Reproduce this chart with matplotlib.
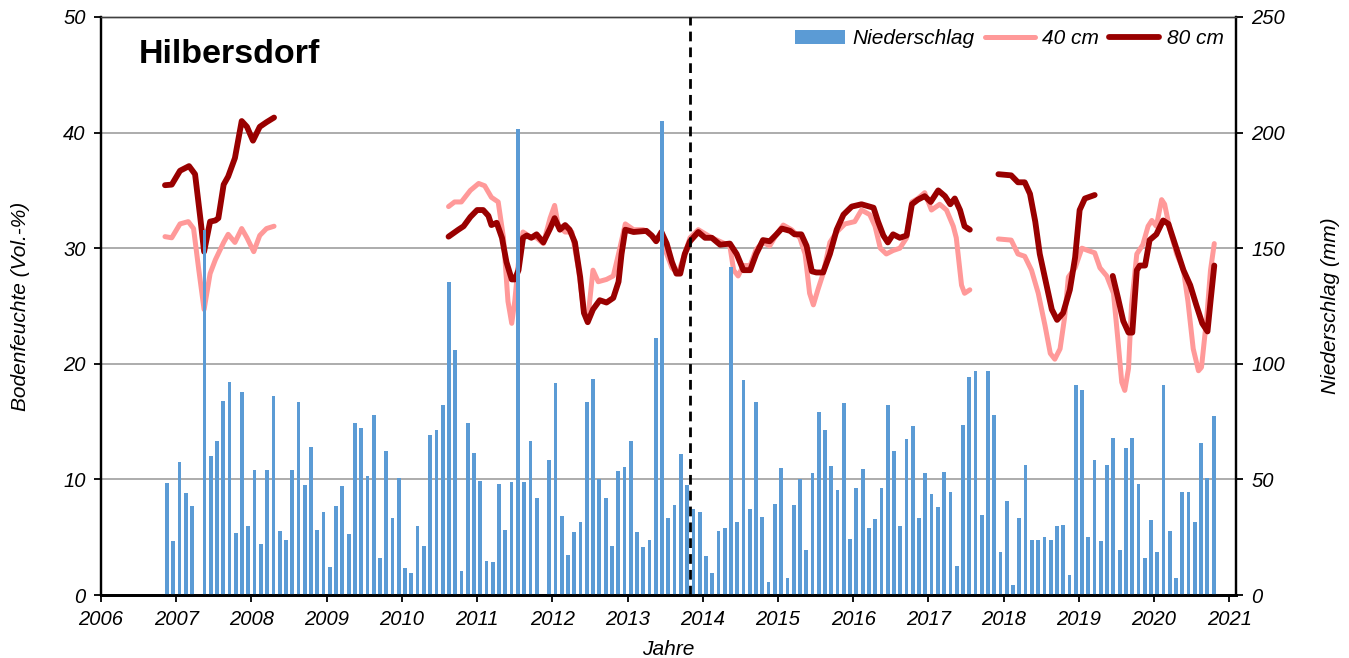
import matplotlib
matplotlib.use("Agg")
import matplotlib.pyplot as plt
import numpy as np
from matplotlib.patches import Patch
from matplotlib.lines import Line2D

plt.rcParams['font.family'] = ['Liberation Sans', 'DejaVu Sans']

# Monthly precipitation (mm), Nov 2006 .. Oct 2020
precip = [
    48.5, 23.5,
    57.5, 44.0, 38.3, 0.0, 158.0, 60.0, 66.5, 84.0, 92.0, 26.7, 88.0, 30.0,
    54.0, 22.0, 54.0, 86.0, 27.5, 24.0, 54.2, 83.4, 47.8, 64.0, 28.3, 35.8,
    12.2, 38.7, 47.2, 26.6, 74.2, 72.2, 51.3, 78.0, 15.8, 62.1, 33.2, 50.8,
    11.7, 9.7, 30.0, 21.1, 69.2, 71.4, 82.3, 135.5, 106.0, 10.4, 74.6, 61.4,
    49.2, 14.6, 14.2, 48.2, 28.1, 48.9, 201.5, 48.7, 66.8, 41.9, 0.0, 58.2,
    91.7, 34.1, 17.1, 27.2, 31.8, 83.4, 93.6, 50.0, 41.9, 21.1, 53.7, 55.4,
    66.4, 27.2, 20.9, 24.0, 111.0, 205.0, 33.4, 38.8, 61.2, 47.4, 37.2, 35.9,
    16.7, 9.7, 27.6, 28.8, 141.8, 31.8, 92.8, 37.0, 83.4, 33.7, 5.8, 39.5,
    55.1, 7.5, 39.1, 50.2, 19.6, 52.8, 79.0, 71.5, 55.6, 45.5, 83.1, 24.3,
    46.3, 54.6, 29.2, 32.8, 46.3, 82.2, 62.2, 29.7, 67.3, 73.2, 33.4, 52.8,
    43.8, 38.0, 53.3, 44.7, 12.7, 73.6, 94.2, 97.1, 34.4, 96.8, 78.0, 18.8,
    40.5, 4.2, 33.3, 56.4, 23.9, 23.9, 25.3, 24.0, 29.7, 30.2, 8.7, 90.7,
    88.5, 25.3, 58.3, 23.2, 56.3, 68.0, 19.6, 63.4, 67.7, 48.0, 15.8, 32.3,
    18.7, 90.7, 27.5, 7.2, 44.7, 44.4, 31.4, 65.8, 50.5, 77.5,
]
first_year, first_month = 2006, 11

# Soil moisture 40 cm (Vol.-%), decimal year ; NaN = gap
t40 = [2006.85, 2006.94, 2007.05, 2007.16, 2007.23, 2007.30, 2007.37, 2007.45, 2007.52, 2007.63,
       2007.69, 2007.78, 2007.87, 2007.94, 2008.03, 2008.11, 2008.20, 2008.30, np.nan,
       2010.62, 2010.70, 2010.79, 2010.91, 2011.02, 2011.10, 2011.19, 2011.28, 2011.35, 2011.41,
       2011.46, 2011.50, 2011.55, 2011.61, 2011.70, 2011.79, 2011.88, 2011.97, 2012.03, 2012.08,
       2012.17, 2012.26, 2012.35, 2012.42, 2012.48, 2012.54, 2012.61, 2012.72, 2012.81, 2012.88,
       2012.97, 2013.08, 2013.21, 2013.32, 2013.39, 2013.45, 2013.52, 2013.59, 2013.67, 2013.76,
       2013.83, 2013.94, 2014.12, 2014.36, 2014.41, 2014.47, 2014.54, 2014.63, 2014.71, 2014.80,
       2014.89, 2014.98, 2015.07, 2015.18, 2015.29, 2015.36, 2015.42, 2015.47, 2015.53, 2015.60,
       2015.69, 2015.78, 2015.89, 2016.02, 2016.11, 2016.22, 2016.29, 2016.36, 2016.44, 2016.53,
       2016.62, 2016.71, 2016.78, 2016.86, 2016.95, 2017.04, 2017.15, 2017.24, 2017.33, 2017.37,
       2017.44, 2017.48, 2017.55, np.nan,
       2017.93, 2018.10, 2018.19, 2018.28, 2018.37, 2018.46, 2018.55, 2018.62, 2018.68, 2018.75,
       2018.81, 2018.86, 2018.95, 2019.04, 2019.12, 2019.21, 2019.28, 2019.37, 2019.46, 2019.52,
       2019.57, 2019.61, 2019.66, 2019.70, 2019.77, 2019.85, 2019.92, 2019.97, 2020.03, 2020.10,
       2020.14, 2020.21, 2020.30, 2020.39, 2020.45, 2020.52, 2020.59, 2020.63, 2020.70, 2020.75,
       2020.80]
v40 = [31.0, 30.9, 32.1, 32.3, 31.7, 28.1, 24.7, 27.8, 29.0, 30.5,
       31.2, 30.5, 31.7, 30.9, 29.7, 31.1, 31.7, 31.9, np.nan,
       33.6, 34.0, 34.0, 35.0, 35.6, 35.4, 34.4, 34.0, 30.9, 25.4,
       23.5, 25.4, 28.8, 31.4, 31.0, 30.9, 30.4, 32.6, 33.7, 31.9,
       31.4, 31.4, 28.1, 24.4, 24.4, 28.1, 27.1, 27.3, 27.6, 29.5,
       32.1, 31.6, 31.6, 31.1, 30.7, 30.9, 29.5, 28.3, 27.8, 29.5,
       30.9, 31.6, 30.9, 30.2, 28.1, 27.6, 28.5, 28.5, 29.9, 30.5,
       30.2, 31.2, 32.0, 31.6, 30.9, 29.5, 26.1, 25.1, 26.4, 27.8,
       30.5, 31.4, 32.1, 32.3, 33.3, 32.9, 31.9, 30.0, 29.5, 29.8,
       30.0, 30.9, 34.0, 34.3, 34.8, 33.3, 33.8, 33.3, 31.9, 30.9,
       26.8, 26.1, 26.4, np.nan,
       30.8, 30.7, 29.5, 29.3, 28.1, 26.1, 23.3, 20.9, 20.4, 21.3,
       24.0, 27.5, 28.3, 30.0, 29.8, 29.6, 28.3, 27.6, 26.1, 22.0,
       18.4, 17.7, 19.6, 25.1, 29.5, 30.3, 31.9, 32.4, 31.9, 34.2,
       33.8, 31.6, 29.5, 28.1, 25.4, 21.3, 19.4, 19.7, 24.0, 28.1,
       30.4]

# Soil moisture 80 cm (Vol.-%)
t80 = [2006.85, 2006.94, 2007.05, 2007.17, 2007.25, 2007.32, 2007.37, 2007.45, 2007.52, 2007.56,
       2007.63, 2007.69, 2007.78, 2007.87, 2007.94, 2008.02, 2008.11, 2008.20, 2008.30, np.nan,
       2010.62, 2010.75, 2010.82, 2010.91, 2011.00, 2011.08, 2011.15, 2011.19, 2011.26, 2011.33,
       2011.39, 2011.46, 2011.50, 2011.55, 2011.61, 2011.66, 2011.72, 2011.79, 2011.88, 2011.97,
       2012.03, 2012.10, 2012.17, 2012.23, 2012.30, 2012.37, 2012.42, 2012.47, 2012.54, 2012.63,
       2012.72, 2012.81, 2012.88, 2012.92, 2012.97, 2013.08, 2013.25, 2013.32, 2013.38, 2013.45,
       2013.52, 2013.59, 2013.65, 2013.70, 2013.76, 2013.83, 2013.94, 2014.03, 2014.12, 2014.23,
       2014.36, 2014.45, 2014.54, 2014.63, 2014.71, 2014.80, 2014.89, 2014.98, 2015.05, 2015.16,
       2015.22, 2015.31, 2015.38, 2015.45, 2015.51, 2015.60, 2015.69, 2015.78, 2015.87, 2015.98,
       2016.11, 2016.27, 2016.33, 2016.40, 2016.46, 2016.53, 2016.62, 2016.71, 2016.78, 2016.86,
       2016.95, 2017.03, 2017.13, 2017.22, 2017.29, 2017.35, 2017.42, 2017.48, 2017.55, np.nan,
       2017.93, 2018.10, 2018.19, 2018.28, 2018.35, 2018.42, 2018.48, 2018.57, 2018.64, 2018.71,
       2018.79, 2018.88, 2018.95, 2019.01, 2019.08, 2019.21, np.nan,
       2019.45, 2019.52, 2019.59, 2019.66, 2019.71, 2019.77, 2019.81, 2019.88, 2019.94, 2020.03,
       2020.12, 2020.19, 2020.30, 2020.39, 2020.48, 2020.56, 2020.64, 2020.71, 2020.75, 2020.80]
v80 = [35.45, 35.5, 36.7, 37.1, 36.4, 32.6, 29.7, 32.3, 32.4, 32.6,
       35.5, 36.2, 37.8, 41.0, 40.5, 39.3, 40.5, 40.9, 41.3, np.nan,
       31.0, 31.6, 31.9, 32.7, 33.3, 33.3, 32.8, 32.0, 32.2, 30.9,
       28.8, 27.3, 27.3, 28.1, 30.9, 31.1, 30.9, 31.2, 30.5, 31.7,
       32.6, 31.6, 32.0, 31.6, 30.5, 27.5, 24.4, 23.6, 24.7, 25.5,
       25.3, 25.7, 27.1, 29.5, 31.6, 31.4, 31.5, 31.1, 30.6, 31.4,
       30.4, 28.8, 27.8, 27.8, 29.5, 30.6, 31.4, 30.9, 30.9, 30.3,
       30.4, 29.5, 28.1, 28.1, 29.5, 30.7, 30.6, 31.2, 31.7, 31.5,
       31.2, 31.2, 30.2, 28.0, 27.9, 27.9, 29.5, 31.6, 32.9, 33.6,
       33.8, 33.5, 32.3, 31.1, 30.5, 31.2, 30.9, 31.1, 33.8, 34.2,
       34.5, 34.0, 35.0, 34.5, 33.8, 34.3, 33.3, 31.9, 31.6, np.nan,
       36.4, 36.3, 35.7, 35.7, 34.7, 32.3, 29.5, 26.8, 24.7, 23.8,
       24.4, 26.4, 29.2, 33.3, 34.3, 34.6, np.nan,
       27.6, 25.7, 23.7, 22.7, 22.7, 28.1, 28.5, 28.5, 30.7, 31.2,
       32.4, 32.1, 29.9, 28.1, 26.8, 25.1, 23.5, 22.8, 25.4, 28.5]

year_ticks = list(range(2006, 2022))
left_ticks = [0, 10, 20, 30, 40, 50]
right_ticks = [0, 50, 100, 150, 200, 250]
divider_year = 2013.833

c_bar = '#5B9BD5'
c_40 = '#FF9999'
c_80 = '#990000'
lw40, lw80 = 3.6, 4.2

fig = plt.figure(figsize=(13.49, 6.58), dpi=100)
ax = fig.add_axes([0.0749, 0.0957, 0.9163 - 0.0749, 0.9742 - 0.0957])
ax2 = ax.twinx()

# gridlines and lines on primary (lower) axis
for y in [10, 20, 30, 40]:
    ax.axhline(y, color='#A6A6A6', lw=1.3, zorder=0)
ax.plot(t40, v40, color=c_40, lw=lw40, solid_capstyle='round', solid_joinstyle='round', zorder=3)
ax.plot(t80, v80, color=c_80, lw=lw80, solid_capstyle='round', solid_joinstyle='round', zorder=4)

# bars on secondary axis (drawn on top)
xm = [first_year + (first_month - 1 + i + 0.5) / 12.0 for i in range(len(precip))]
ax2.bar(xm, precip, width=0.05, color=c_bar, zorder=2)
ax2.set_ylim(0, 250)
ax2.set_yticks(right_ticks)
ax2.axvline(divider_year, color='black', lw=2, ls=(0, (3.5, 2.2)), zorder=5)

ax.set_xlim(2006, 2021.09)
ax.set_ylim(0, 50)
ax.set_yticks(left_ticks)
ax.set_xticks(year_ticks)
ax.set_xticklabels([str(y) for y in year_ticks])

for lab in ax.get_xticklabels() + ax.get_yticklabels() + ax2.get_yticklabels():
    lab.set_fontsize(14.5)
    lab.set_fontstyle('italic')

ax.tick_params(axis='both', direction='out', length=5, width=1.3, colors='black', pad=6)
ax2.tick_params(axis='y', direction='out', length=5, width=1.3, colors='black', pad=6)

for a in (ax, ax2):
    a.spines['left'].set_linewidth(1.6)
    a.spines['right'].set_linewidth(1.6)
    a.spines['bottom'].set_linewidth(2.0)
    a.spines['top'].set_linewidth(1.0)
    a.spines['top'].set_color('#404040')

ax.set_ylabel('Bodenfeuchte (Vol.-%)', fontsize=15, fontstyle='italic', labelpad=24)
ax2.set_ylabel('Niederschlag (mm)', fontsize=15, fontstyle='italic', labelpad=26)
ax.set_xlabel('Jahre', fontsize=15, fontstyle='italic', labelpad=8)

ax.text(0.033, 0.935, 'Hilbersdorf', transform=ax.transAxes, fontsize=24.5,
        fontweight='bold', va='center', ha='left')

handles = [Patch(facecolor=c_bar, edgecolor='none'),
           Line2D([0], [0], color=c_40, lw=lw40, solid_capstyle='round'),
           Line2D([0], [0], color=c_80, lw=lw80, solid_capstyle='round')]
leg = ax2.legend(handles, ['Niederschlag', '40 cm', '80 cm'], loc='upper right',
                 bbox_to_anchor=(1.0, 1.0), ncol=3, frameon=False,
                 prop=dict(size=15, style='italic'), handlelength=2.4,
                 handletextpad=0.35, columnspacing=0.5, borderaxespad=0.2)

fig.savefig('out.png', dpi=100)
